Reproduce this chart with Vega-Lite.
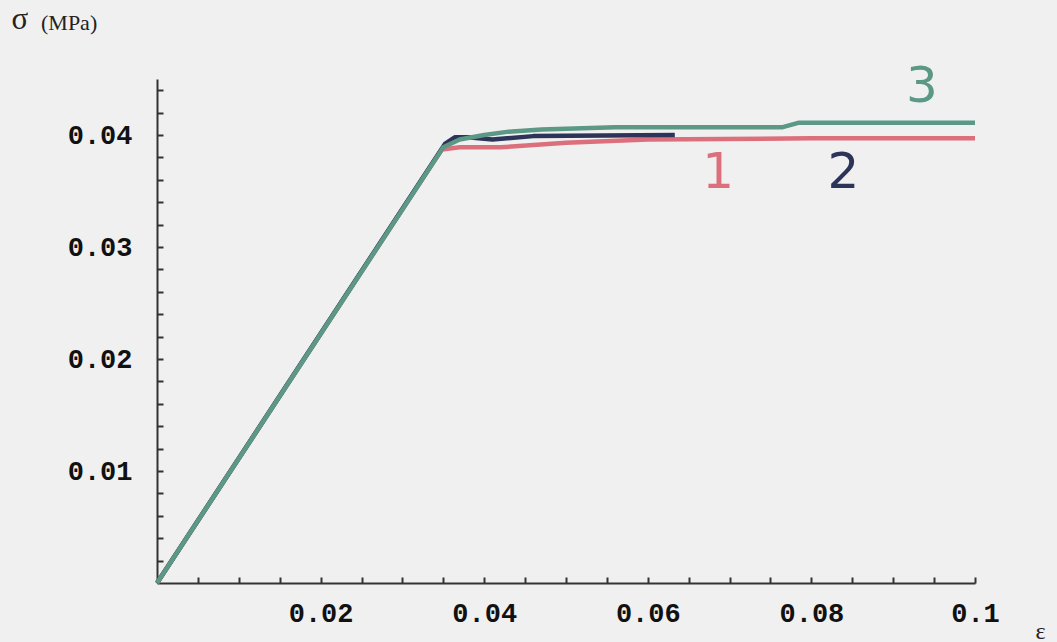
{
  "$schema": "https://vega.github.io/schema/vega-lite/v6.json",
  "width": 818,
  "height": 504,
  "autosize": "none",
  "padding": {"left": 157, "top": 79, "right": 82, "bottom": 59},
  "background": "#f0f0f0",
  "config": {"view": {"stroke": null}},
  "title": {
    "text": "(MPa)",
    "anchor": "start",
    "frame": "group",
    "font": "Liberation Serif",
    "fontSize": 22,
    "fontWeight": "normal",
    "color": "#222222",
    "align": "left",
    "baseline": "alphabetic",
    "offset": 0,
    "dx": -116,
    "dy": 49
  },
  "datasets": {
    "curves": [
      {"curve": "1", "eps": 0, "sigma": 0},
      {"curve": "1", "eps": 0.0348, "sigma": 0.0387},
      {"curve": "1", "eps": 0.037, "sigma": 0.0389},
      {"curve": "1", "eps": 0.042, "sigma": 0.0389},
      {"curve": "1", "eps": 0.05, "sigma": 0.0393},
      {"curve": "1", "eps": 0.06, "sigma": 0.0396},
      {"curve": "1", "eps": 0.08, "sigma": 0.0397},
      {"curve": "1", "eps": 0.1, "sigma": 0.0397},
      {"curve": "2", "eps": 0, "sigma": 0},
      {"curve": "2", "eps": 0.0352, "sigma": 0.0392},
      {"curve": "2", "eps": 0.0364, "sigma": 0.0398},
      {"curve": "2", "eps": 0.038, "sigma": 0.0398},
      {"curve": "2", "eps": 0.041, "sigma": 0.0396},
      {"curve": "2", "eps": 0.046, "sigma": 0.0399},
      {"curve": "2", "eps": 0.0633, "sigma": 0.04},
      {"curve": "3", "eps": 0, "sigma": 0},
      {"curve": "3", "eps": 0.035, "sigma": 0.0389},
      {"curve": "3", "eps": 0.037, "sigma": 0.0396},
      {"curve": "3", "eps": 0.04, "sigma": 0.04},
      {"curve": "3", "eps": 0.043, "sigma": 0.0403},
      {"curve": "3", "eps": 0.047, "sigma": 0.0405},
      {"curve": "3", "eps": 0.056, "sigma": 0.0407},
      {"curve": "3", "eps": 0.0765, "sigma": 0.0407},
      {"curve": "3", "eps": 0.0785, "sigma": 0.0411},
      {"curve": "3", "eps": 0.1, "sigma": 0.0411}
    ],
    "labels": [
      {"curve": "1", "eps": 0.0686, "sigma": 0.0366},
      {"curve": "2", "eps": 0.0839, "sigma": 0.0366},
      {"curve": "3", "eps": 0.0935, "sigma": 0.0443}
    ]
  },
  "encoding": {
    "x": {
      "field": "eps",
      "type": "quantitative",
      "scale": {"domain": [0, 0.1], "nice": false, "zero": false},
      "axis": {
        "title": "ε",
        "titleFont": "Liberation Serif",
        "titleFontSize": 24,
        "titleFontWeight": "normal",
        "titleColor": "#222222",
        "titleAlign": "center",
        "titleBaseline": "alphabetic",
        "titleX": 883,
        "titleY": 55,
        "values": [0.005, 0.01, 0.015, 0.02, 0.025, 0.03, 0.035, 0.04, 0.045, 0.05, 0.055, 0.06, 0.065, 0.07, 0.075, 0.08, 0.085, 0.09, 0.095, 0.1],
        "labelExpr": "round(datum.value*1000) % 20 == 0 ? ('' + round(datum.value*100)/100) : ''",
        "labelFont": "Liberation Mono",
        "labelFontWeight": "bold",
        "labelFontSize": 27,
        "labelColor": "#111111",
        "labelPadding": 23,
        "labelBaseline": "top",
        "tickSize": -6,
        "tickWidth": 2,
        "tickColor": "#333333",
        "domainColor": "#333333",
        "domainWidth": 2,
        "grid": false,
        "labelFlush": false,
        "labelOverlap": false
      }
    },
    "y": {
      "field": "sigma",
      "type": "quantitative",
      "scale": {"domain": [0, 0.045], "nice": false, "zero": false},
      "axis": {
        "title": "σ",
        "titleFont": "Liberation Serif",
        "titleFontSize": 31,
        "titleFontWeight": "normal",
        "titleColor": "#222222",
        "titleAngle": 0,
        "titleAlign": "left",
        "titleBaseline": "alphabetic",
        "titleX": -146,
        "titleY": -51,
        "values": [0.002, 0.004, 0.006, 0.008, 0.01, 0.012, 0.014, 0.016, 0.018, 0.02, 0.022, 0.024, 0.026, 0.028, 0.03, 0.032, 0.034, 0.036, 0.038, 0.04, 0.042, 0.044],
        "labelExpr": "round(datum.value*1000) % 10 == 0 ? ('' + round(datum.value*100)/100) : ''",
        "labelFont": "Liberation Mono",
        "labelFontWeight": "bold",
        "labelFontSize": 27,
        "labelColor": "#111111",
        "labelPadding": 31,
        "tickSize": -6,
        "tickWidth": 2,
        "tickColor": "#333333",
        "domainColor": "#333333",
        "domainWidth": 2,
        "grid": false,
        "labelFlush": false,
        "labelOverlap": false
      }
    },
    "color": {
      "field": "curve",
      "type": "nominal",
      "scale": {"domain": ["1", "2", "3"], "range": ["#dc6f7c", "#2c3459", "#5b9886"]},
      "legend": null
    }
  },
  "layer": [
    {
      "data": {"name": "curves"},
      "mark": {"type": "line", "strokeWidth": 4.5, "strokeJoin": "round"}
    },
    {
      "data": {"name": "labels"},
      "mark": {"type": "text", "font": "DejaVu Sans", "fontSize": 50, "align": "center", "baseline": "middle"},
      "encoding": {"text": {"field": "curve"}}
    }
  ]
}
